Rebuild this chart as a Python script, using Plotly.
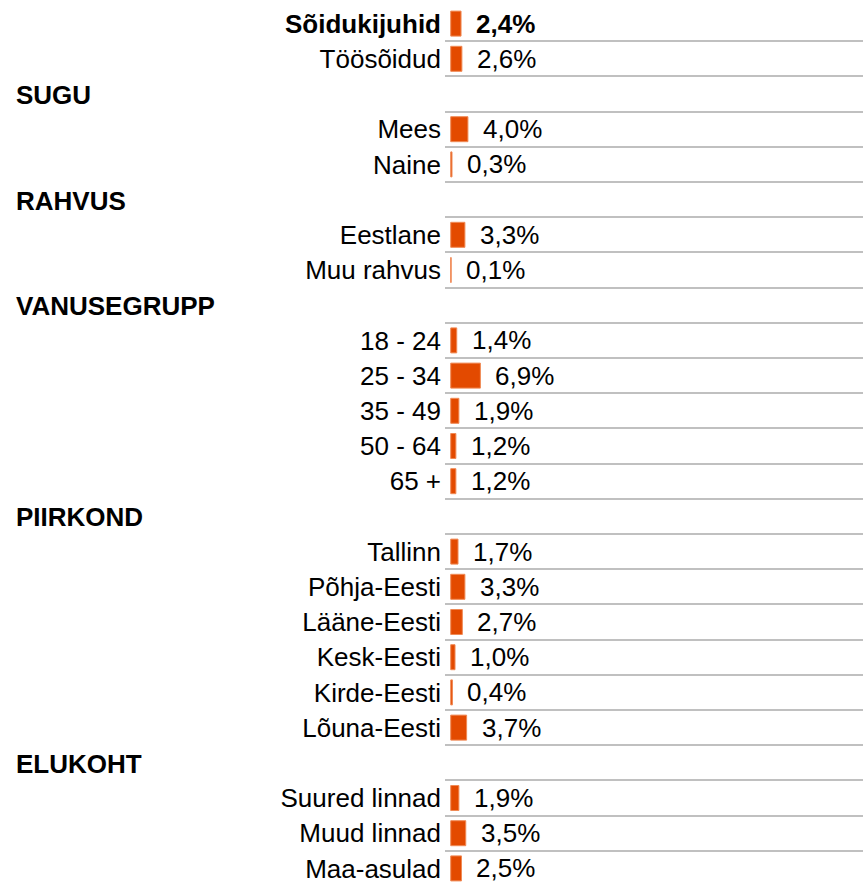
import plotly.graph_objects as go

# ---- data ----
top_labels = ["Sõidukijuhid", "Töösõidud"]
top_values = [2.4, 2.6]

group_names = ["SUGU", "RAHVUS", "VANUSEGRUPP", "PIIRKOND", "ELUKOHT"]
sugu_labels = ["Mees", "Naine"]
sugu_values = [4.0, 0.3]
rahvus_labels = ["Eestlane", "Muu rahvus"]
rahvus_values = [3.3, 0.1]
vanus_labels = ["18 - 24", "25 - 34", "35 - 49", "50 - 64", "65 +"]
vanus_values = [1.4, 6.9, 1.9, 1.2, 1.2]
piirkond_labels = ["Tallinn", "Põhja-Eesti", "Lääne-Eesti", "Kesk-Eesti", "Kirde-Eesti", "Lõuna-Eesti"]
piirkond_values = [1.7, 3.3, 2.7, 1.0, 0.4, 3.7]
elukoht_labels = ["Suured linnad", "Muud linnad", "Maa-asulad"]
elukoht_values = [1.9, 3.5, 2.5]

groups = [
    (sugu_labels, sugu_values),
    (rahvus_labels, rahvus_values),
    (vanus_labels, vanus_values),
    (piirkond_labels, piirkond_values),
    (elukoht_labels, elukoht_values),
]

# ---- build rows ----
cats, vals, ticktext, is_header = [], [], [], []
for i, (lab, v) in enumerate(zip(top_labels, top_values)):
    cats.append(lab); vals.append(v)
    ticktext.append(f"<b>{lab}</b>" if i == 0 else lab)
    is_header.append(False)
for name, (labs, vs) in zip(group_names, groups):
    cats.append(name); vals.append(None); ticktext.append(""); is_header.append(True)
    for lab, v in zip(labs, vs):
        cats.append(lab); vals.append(v); ticktext.append(lab); is_header.append(False)

FONT = "Liberation Sans, Arial, sans-serif"
BAR = "#E34A00"

fig = go.Figure()
fig.add_trace(go.Bar(
    x=vals, y=cats, orientation="h",
    marker=dict(color=BAR, line=dict(color="#F08A55", width=1)),
    width=0.71, hoverinfo="skip",
))

annotations = []
for i, (c, v, h) in enumerate(zip(cats, vals, is_header)):
    if h:
        annotations.append(dict(
            x=-1.0311, xref="paper", y=c, yref="y", xanchor="left", yanchor="middle",
            text=f"<b>{c}</b>", showarrow=False, yshift=-1,
            font=dict(family=FONT, size=26, color="#000000"),
        ))
    else:
        txt = f"{v:.1f}".replace(".", ",") + "%"
        if i == 0:
            txt = f"<b>{txt}</b>"
        annotations.append(dict(
            x=v, xref="x", y=c, yref="y", xanchor="left", yanchor="middle",
            text=txt, showarrow=False, xshift=13,
            font=dict(family=FONT, size=26, color="#000000"),
        ))

fig.update_layout(
    width=863, height=882,
    margin=dict(l=445, r=0, t=6, b=0),
    paper_bgcolor="white", plot_bgcolor="white",
    showlegend=False,
    annotations=annotations,
    font=dict(family=FONT, size=26, color="#000000"),
    xaxis=dict(range=[-1.33, 95.9], showgrid=False, zeroline=False,
               showticklabels=False, showline=False, fixedrange=True),
    yaxis=dict(type="category", categoryorder="array", categoryarray=cats,
               tickmode="array", tickvals=cats, ticktext=ticktext,
               range=[24.386, -0.5], tickson="boundaries",
               showgrid=True, gridcolor="#C0C0C0", gridwidth=2,
               ticks="", ticklabelstandoff=3, showline=False, zeroline=False,
               tickfont=dict(family=FONT, size=26, color="#000000"),
               automargin=False, fixedrange=True),
)

fig.write_html("out.html", config={"displayModeBar": False},
               post_script="document.body.style.margin='0';")
